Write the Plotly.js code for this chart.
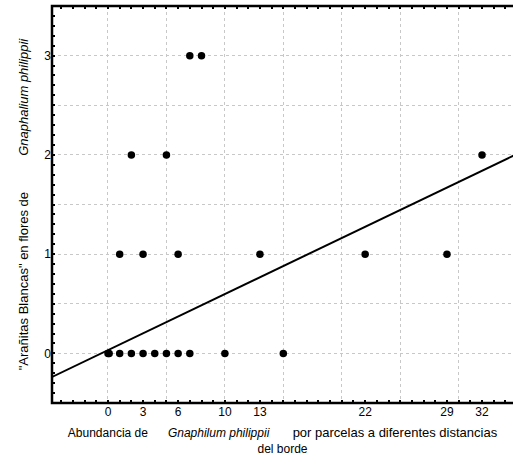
<!DOCTYPE html>
<html>
<head>
<meta charset="utf-8">
<script src="https://cdn.plot.ly/plotly-3.0.1.min.js"></script>
<style>html,body{margin:0;padding:0;background:#fff;}#chart{width:513px;height:463px;}</style>
</head>
<body>
<div id="chart"></div>
<script>
// Data
const abundance = [0, 0.1, 1, 2, 3, 4, 5, 6, 7, 10, 15, 1, 3, 6, 13, 22, 29, 2, 5, 32, 7, 8];
const spiders   = [0, 0,   0, 0, 0, 0, 0, 0, 0, 0,  0,  1, 1, 1, 1,  1,  1,  2, 2, 2,  3, 3];
const regX = [-5, 35];
const regY = [-0.25, 2.01];
const xTickVals = [0, 3, 6, 10, 13, 22, 29, 32];
const xTickText = ['0', '3', '6', '10', '13', '22', '29', '32'];
const yTickVals = [0, 1, 2, 3];
const yTickText = ['0', '1', '2', '3'];

const FONT = 'Liberation Sans, Arial, sans-serif';
const SP = n => '&nbsp;'.repeat(n);

// small inside tick marks: every 1 unit on x, every 0.1 on y (labels only at the chosen values)
const xTickAll = [], xTextAll = [];
for (let k = -4; k <= 34; k++) {
  xTickAll.push(k);
  const i = xTickVals.indexOf(k);
  xTextAll.push(i >= 0 ? xTickText[i] : '');
}
const yTickAll = [], yTextAll = [];
for (let k = -5; k <= 35; k++) {
  const v = k / 10;
  yTickAll.push(v);
  const i = yTickVals.indexOf(v);
  yTextAll.push(i >= 0 ? yTickText[i] : '');
}

const traces = [
  {x: regX, y: regY, mode: 'lines', line: {color: '#000', width: 2}, hoverinfo: 'skip', xaxis: 'x', yaxis: 'y'},
  {x: abundance, y: spiders, mode: 'markers', marker: {color: '#000', size: 7.5}, xaxis: 'x', yaxis: 'y'},
  {x: [0], y: [0], mode: 'markers', marker: {opacity: 0}, hoverinfo: 'skip', xaxis: 'x2', yaxis: 'y2'},
  {x: [0], y: [0], mode: 'markers', marker: {opacity: 0}, hoverinfo: 'skip', xaxis: 'x3', yaxis: 'y'}
];

const GRID = {showgrid: true, gridcolor: '#c8c8c8', gridwidth: 1, griddash: 'dot',
              showticklabels: false, ticks: '', showline: false, zeroline: false};

const layout = {
  width: 513, height: 463,
  margin: {l: 52, r: 0, t: 6, b: 60},
  paper_bgcolor: '#fff', plot_bgcolor: '#fff',
  showlegend: false,
  font: {family: FONT, size: 12, color: '#000'},
  xaxis: {
    range: [-4.79, 34.65],
    tickmode: 'array', tickvals: xTickAll, ticktext: xTextAll,
    showgrid: false, zeroline: false, showline: false,
    ticks: 'inside', ticklen: 3, tickwidth: 1.5, tickcolor: 'black',
    tickfont: {family: FONT, size: 12, color: '#000'},
    title: {text: 'Abundancia de' + SP(6) + '<i>Gnaphilum philippii</i>' + SP(7) +
                  '<span style="font-size:13px">por parcelas a diferentes distancias</span><br>del borde',
            font: {family: FONT, size: 12, color: '#000'}, standoff: 10}
  },
  xaxis2: Object.assign({overlaying: 'x', matches: 'x', side: 'bottom', tickmode: 'linear', tick0: 0, dtick: 5}, GRID),
  xaxis3: {overlaying: 'x', matches: 'x', side: 'top',
           tickmode: 'array', tickvals: xTickAll, showticklabels: false,
           ticks: 'inside', ticklen: 3, tickwidth: 1.5, tickcolor: 'black',
           showgrid: false, showline: false, zeroline: false},
  yaxis: {
    range: [-0.5, 3.5],
    tickmode: 'array', tickvals: yTickAll, ticktext: yTextAll,
    showgrid: false, zeroline: false, showline: false,
    ticks: 'inside', ticklen: 3, tickwidth: 1.5, tickcolor: 'black',
    tickfont: {family: FONT, size: 12, color: '#000'},
    title: {text: '"Arañitas Blancas" en flores de' + SP(10) + '<i>Gnaphalium philippii</i>',
            font: {family: FONT, size: 13, color: '#000'}, standoff: 12}
  },
  yaxis2: Object.assign({overlaying: 'y', matches: 'y', side: 'left', tickmode: 'linear', tick0: 0, dtick: 0.5}, GRID),
  // plot frame (left, bottom and top edges; right edge falls outside the window as in the reference)
  shapes: [{type: 'rect', xref: 'paper', yref: 'paper', x0: 0, x1: 1.02, y0: 0, y1: 1,
            line: {color: 'black', width: 2.5}, fillcolor: 'rgba(0,0,0,0)', layer: 'above'}]
};

Plotly.newPlot('chart', traces, layout, {displayModeBar: false});
</script>
</body>
</html>
